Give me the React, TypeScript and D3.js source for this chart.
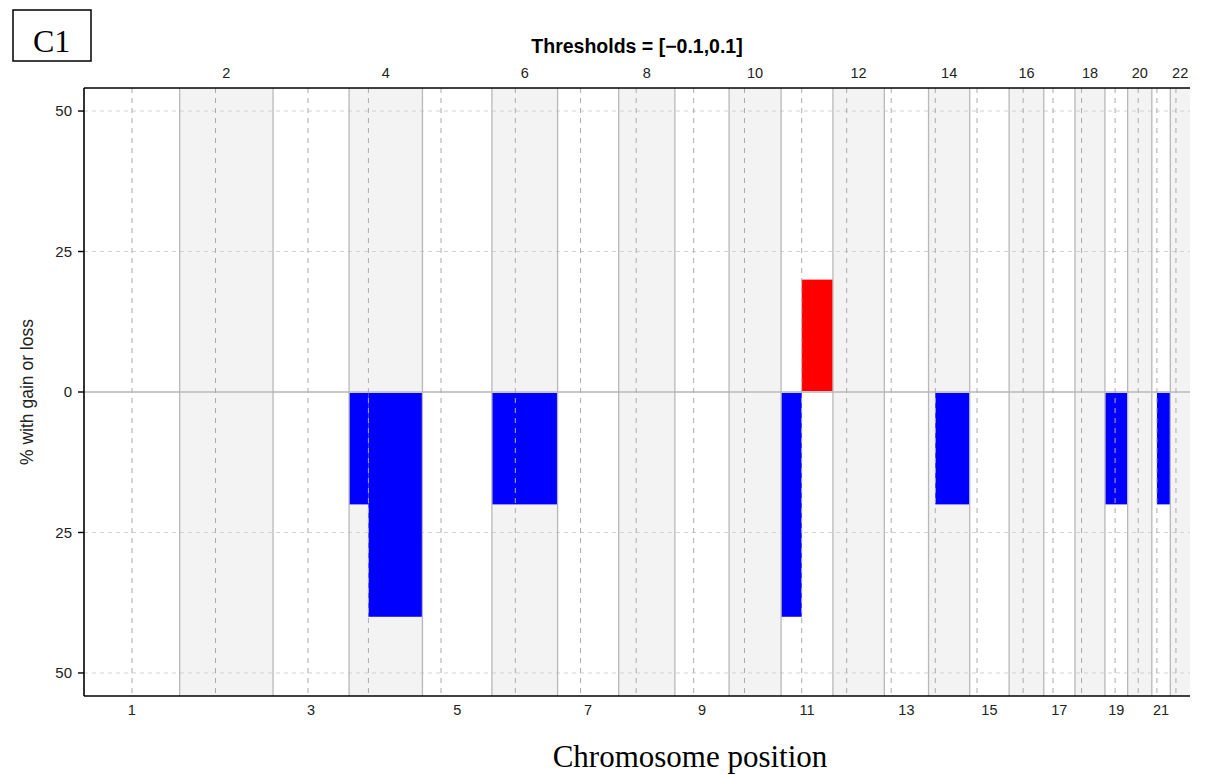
import React from "react";
import { scaleLinear, sum, cumsum } from "d3";

// hg19 autosome lengths and centromere midpoints, in Mb
const chromosomes = ["1", "2", "3", "4", "5", "6", "7", "8", "9", "10", "11", "12", "13", "14", "15", "16", "17", "18", "19", "20", "21", "22"];
const chromLengthMb = [249.25, 243.2, 198.02, 191.15, 180.92, 171.12, 159.14, 146.36, 141.21, 135.53, 135.01, 133.85, 115.17, 107.35, 102.53, 90.35, 81.2, 78.08, 59.13, 63.03, 48.13, 51.3];
const centromereMb = [125.0, 93.3, 91.0, 50.4, 48.4, 61.0, 59.9, 45.6, 49.0, 40.2, 53.7, 35.8, 17.9, 17.6, 19.0, 36.6, 24.0, 17.2, 26.5, 27.5, 13.2, 14.7];

// segments: chromosome, start / end within chromosome (Mb), % of samples
const lossSegments = [
  { chrom: "4", start: 0, end: 50.4, pct: 20 },
  { chrom: "4", start: 50.4, end: 191.15, pct: 40 },
  { chrom: "6", start: 0, end: 171.12, pct: 20 },
  { chrom: "11", start: 0, end: 53.7, pct: 40 },
  { chrom: "14", start: 17.6, end: 107.35, pct: 20 },
  { chrom: "19", start: 0.6, end: 59.13, pct: 20 },
  { chrom: "21", start: 13.2, end: 47.5, pct: 20 },
];
const gainSegments = [{ chrom: "11", start: 53.7, end: 135.01, pct: 20 }];

const yTicks = [50, 25, 0, -25, -50];
const title = "Thresholds = [\u22120.1,0.1]";

const W = 1214;
const H = 775;
const left = 84;
const right = 1190;
const top = 88;
const bottom = 696;

export default function App() {
  const total = sum(chromLengthMb);
  const offsets = [0, ...Array.from(cumsum(chromLengthMb))];
  const offsetOf = (c: string) => offsets[chromosomes.indexOf(c)];

  const x = scaleLinear().domain([0, total]).range([left, right]);
  const y = scaleLinear().domain([54.1, -54.1]).range([top, bottom]);

  const sans = "'Liberation Sans', Arial, Helvetica, sans-serif";
  const serif = "'Liberation Serif', 'Times New Roman', serif";

  const bar = (s: { chrom: string; start: number; end: number; pct: number }, sign: number, color: string, i: number) => {
    const o = offsetOf(s.chrom);
    const x0 = x(o + s.start);
    const x1 = x(o + s.end);
    const y0 = y(0);
    const y1 = y(sign * s.pct);
    return (
      <rect
        key={color + i}
        x={x0}
        width={x1 - x0}
        y={Math.min(y0, y1)}
        height={Math.abs(y1 - y0)}
        fill={color}
      />
    );
  };

  return (
    <svg
      width={W}
      height={H}
      style={{ position: "absolute", left: 0, top: 0, background: "#fff" }}
    >
      <rect width={W} height={H} fill="#fff" />

      {/* panel label */}
      <rect x={13} y={10} width={78} height={51} fill="none" stroke="#000" strokeWidth={1.5} />
      <text x={33} y={51.5} fontFamily={serif} fontSize={32} fill="#000">
        C1
      </text>

      <text x={(left + right) / 2} y={53} textAnchor="middle" fontFamily={sans} fontWeight="bold" fontSize={19.5} fill="#000">
        {title}
      </text>

      {/* chromosome shading */}
      {chromosomes.map((c, i) => (
        <rect
          key={"bg" + c}
          x={x(offsets[i])}
          width={x(offsets[i + 1]) - x(offsets[i])}
          y={top}
          height={bottom - top}
          fill={i % 2 === 1 ? "#f3f3f3" : "#fff"}
        />
      ))}

      {/* horizontal grid */}
      {yTicks
        .filter((t) => t !== 0)
        .map((t) => (
          <line key={"hg" + t} x1={left} x2={right} y1={y(t)} y2={y(t)} stroke="#d2d2d2" strokeDasharray="4,4" strokeWidth={1} />
        ))}

      {/* bars */}
      {lossSegments.map((s, i) => bar(s, -1, "#0000ff", i))}
      {gainSegments.map((s, i) => bar(s, 1, "#ff0000", i))}

      {/* zero line */}
      <line x1={left} x2={right} y1={y(0)} y2={y(0)} stroke="#c8c8c8" strokeWidth={2} />

      {/* chromosome boundaries */}
      {offsets.slice(1, -1).map((o, i) => (
        <line key={"b" + i} x1={x(o)} x2={x(o)} y1={top} y2={bottom} stroke="#b8b8b8" strokeWidth={1.3} />
      ))}

      {/* centromeres */}
      {centromereMb.map((cm, i) => (
        <line
          key={"cen" + i}
          x1={x(offsets[i] + cm)}
          x2={x(offsets[i] + cm)}
          y1={top}
          y2={bottom}
          stroke="#ababab"
          strokeDasharray="5,5"
          strokeWidth={1}
        />
      ))}

      {/* panel border */}
      <line x1={left} x2={right} y1={top} y2={top} stroke="#000" strokeWidth={1.6} />
      <line x1={left} x2={right} y1={bottom} y2={bottom} stroke="#000" strokeWidth={1.6} />
      <line x1={left} x2={left} y1={top} y2={bottom} stroke="#000" strokeWidth={1.6} />

      {/* y axis */}
      {yTicks.map((t) => (
        <g key={"yt" + t}>
          <line x1={78} x2={left} y1={y(t)} y2={y(t)} stroke="#000" strokeWidth={1.4} />
          <text x={72} y={y(t)} dy="0.35em" textAnchor="end" fontFamily={sans} fontSize={15} fill="#222">
            {Math.abs(t)}
          </text>
        </g>
      ))}
      <text
        transform={`translate(27, ${y(0)}) rotate(-90)`}
        textAnchor="middle"
        dy="0.35em"
        fontFamily={sans}
        fontSize={17.5}
        fill="#222"
      >
        % with gain or loss
      </text>

      {/* chromosome labels */}
      {chromosomes.map((c, i) => {
        const cx = x(offsets[i] + chromLengthMb[i] / 2);
        const even = i % 2 === 1;
        return (
          <text
            key={"lab" + c}
            x={cx}
            y={even ? 73 : 710}
            dy="0.35em"
            textAnchor="middle"
            fontFamily={sans}
            fontSize={14.5}
            fill="#222"
          >
            {c}
          </text>
        );
      })}

      <text x={690} y={767} textAnchor="middle" fontFamily={serif} fontSize={31} fill="#000">
        Chromosome position
      </text>
    </svg>
  );
}
